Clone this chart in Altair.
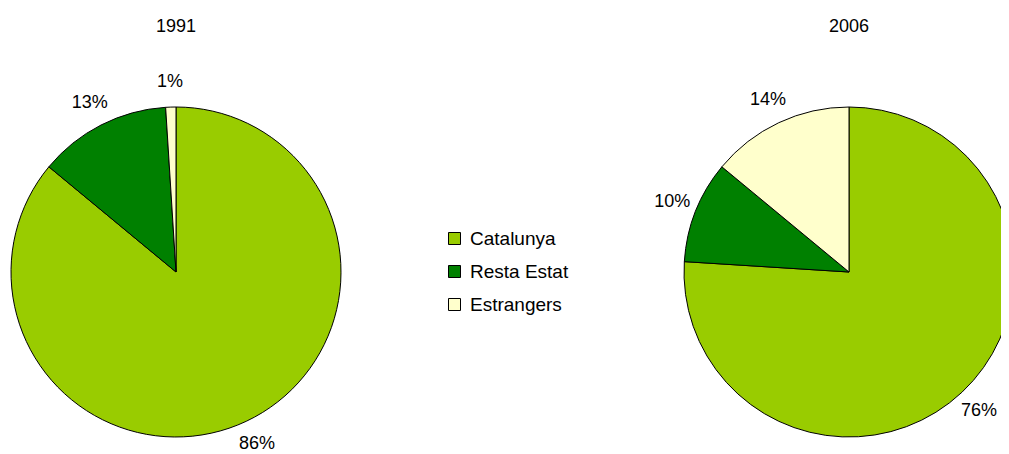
import altair as alt
import pandas as pd

years = ["1991", "2006"]
categories = ["Catalunya", "Resta Estat", "Estrangers"]
pct_1991 = [86, 13, 1]
pct_2006 = [76, 10, 14]
colors = ["#99CC00", "#008000", "#FFFFCC"]

rows = []
for yr, vals in zip(years, [pct_1991, pct_2006]):
    for i, (c, v) in enumerate(zip(categories, vals)):
        rows.append({"year": yr, "cat": c, "pct": v, "ordre": i, "label": f"{v}%"})
df = pd.DataFrame(rows)
titles = pd.DataFrame({"year": years})

FONT = "Liberation Sans"
xscale = alt.Scale(type="point", domain=years, range=[168, 841], padding=0)
xenc = alt.X("year:N", scale=xscale, axis=None)

color = alt.Color(
    "cat:N",
    scale=alt.Scale(domain=categories, range=colors),
    legend=alt.Legend(
        title=None,
        orient="none",
        legendX=437,
        legendY=221,
        symbolType="square",
        symbolSize=144,
        symbolStrokeColor="black",
        symbolStrokeWidth=1,
        labelFontSize=19,
        labelFont=FONT,
        labelColor="black",
        labelOffset=6,
        rowPadding=13,
        padding=0,
    ),
)

base = alt.Chart(df)
layers = []
for yr in years:
    b = base.transform_filter(alt.datum.year == yr)
    arc = b.mark_arc(stroke="black", strokeWidth=1).encode(
        theta=alt.Theta("pct:Q", stack=True),
        color=color,
        order=alt.Order("ordre:Q"),
        x=xenc,
        y=alt.value(264),
        radius=alt.value(165),
    )
    txt = b.mark_text(fontSize=18, font=FONT, color="black").encode(
        theta=alt.Theta("pct:Q", stack=True),
        order=alt.Order("ordre:Q"),
        detail="cat:N",
        x=xenc,
        y=alt.value(264),
        radius=alt.value(190),
        text="label:N",
    )
    layers += [arc, txt]

title_layer = alt.Chart(titles).mark_text(fontSize=18, font=FONT, color="black").encode(
    x=xenc,
    y=alt.value(19),
    text="year:N",
)

chart = alt.layer(*layers, title_layer).properties(
    width=993,
    height=446,
    autosize=alt.AutoSizeParams(type="none"),
    padding=0,
).configure_view(stroke=None)

chart.save("out.html", embed_options={"renderer": "svg", "actions": False})
